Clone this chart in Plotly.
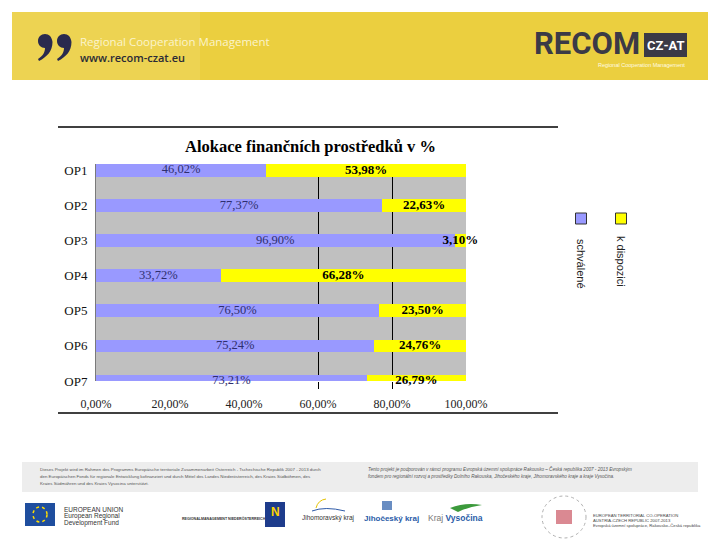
import plotly.graph_objects as go

# ---------------- data ----------------
categories = ["OP1", "OP2", "OP3", "OP4", "OP5", "OP6", "OP7"]
schvalene = [46.02, 77.37, 96.90, 33.72, 76.50, 75.24, 73.21]
k_dispozici = [53.98, 22.63, 3.10, 66.28, 23.50, 24.76, 26.79]
series_names = ["schválené", "k dispozici"]
x_tick_vals = [0, 20, 40, 60, 80, 100]
x_tick_text = ["0,00%", "20,00%", "40,00%", "60,00%", "80,00%", "100,00%"]
grid_vals = [60, 80]
title_text = "Alokace finančních prostředků v %"

BLUE = "#9999FF"
YELLOW = "#FFFF00"
GRAY = "#C0C0C0"
SERIF = "Liberation Serif, Times New Roman, serif"
SANS = "Liberation Sans, Arial, sans-serif"
W, H = 720, 540
OFF = 8  # page body margin offset


def fmt(v):
    return f"{v:.2f}".replace(".", ",") + "%"


def px(x):
    return (x - OFF) / W


def py(y):
    return 1 - (y - OFF) / H


fig = go.Figure()

fig.add_trace(go.Bar(y=categories, x=schvalene, orientation="h", name=series_names[0],
                     marker=dict(color=BLUE, line=dict(width=0)), hoverinfo="skip"))
fig.add_trace(go.Bar(y=categories, x=k_dispozici, orientation="h", name=series_names[1],
                     marker=dict(color=YELLOW, line=dict(width=0)), hoverinfo="skip"))

# data labels centred in each segment
mid_a = [a / 2 for a in schvalene]
mid_b = [a + b / 2 for a, b in zip(schvalene, k_dispozici)]
fig.add_trace(go.Scatter(x=mid_a, y=categories, mode="text", text=[fmt(v) for v in schvalene],
                         textfont=dict(family=SERIF, size=12.5, color="#2e2e6e"),
                         xaxis="x2", cliponaxis=False, showlegend=False, hoverinfo="skip"))
fig.add_trace(go.Scatter(x=mid_b, y=categories, mode="text", text=[fmt(v) for v in k_dispozici],
                         textfont=dict(family=SERIF, size=13, color="#000000", weight=700),
                         xaxis="x2", cliponaxis=False, showlegend=False, hoverinfo="skip"))

xdom = [px(96), px(466)]
ydom = [py(381), py(164)]

fig.update_layout(
    width=W, height=H,
    margin=dict(l=0, r=0, t=0, b=0, autoexpand=False),
    paper_bgcolor="white",
    plot_bgcolor=GRAY,
    barmode="stack",
    bargap=0.64,
    showlegend=False,
    xaxis=dict(domain=xdom, range=[0, 100], tickvals=x_tick_vals, ticktext=x_tick_text,
               showgrid=False, zeroline=False, showline=False, ticks="", automargin=False,
               tickfont=dict(family=SERIF, size=12, color="#222"), ticklabelstandoff=14),
    xaxis2=dict(domain=xdom, range=[0, 100], overlaying="x", anchor="y", side="bottom",
                tickvals=grid_vals, showticklabels=False, showgrid=True, gridcolor="#000000",
                gridwidth=1, zeroline=False, showline=False, ticks="outside", ticklen=7,
                tickcolor="#000000", tickwidth=1, automargin=False),
    yaxis=dict(domain=ydom, type="category", categoryorder="array", categoryarray=categories,
               range=[6, -0.18], showgrid=False, zeroline=False, showline=True,
               linecolor="#7a7a7a", linewidth=1, ticks="", automargin=False,
               tickfont=dict(family=SERIF, size=13, color="#111"), ticklabelstandoff=5),
)

shapes = []
annotations = []

# ---------- header banner ----------
shapes.append(dict(type="rect", xref="paper", yref="paper", x0=px(12), x1=px(708), y0=py(80), y1=py(12),
                   fillcolor="#EBCF3F", line=dict(width=0), layer="below"))
shapes.append(dict(type="rect", xref="paper", yref="paper", x0=px(12), x1=px(200), y0=py(80), y1=py(12),
                   fillcolor="rgba(255,255,255,0.10)", line=dict(width=0), layer="below"))


def comma_path(cx):
    pts = [("M", [(cx - 7, 41)]),
           ("C", [(cx - 7, 37), (cx - 4, 34), (cx, 34)]),
           ("C", [(cx + 4, 34), (cx + 7, 37), (cx + 7.5, 42)]),
           ("C", [(cx + 7.5, 51), (cx + 2, 57), (cx - 6, 61)]),
           ("L", [(cx - 7, 59)]),
           ("C", [(cx - 2, 56), (cx, 52), (cx, 48)]),
           ("C", [(cx - 4, 48), (cx - 7, 45), (cx - 7, 41)])]
    s = ""
    for cmd, ps in pts:
        s += cmd + " " + " ".join(f"{px(a):.5f},{py(b):.5f}" for a, b in ps) + " "
    return s + "Z"


for cx in (45, 64):
    shapes.append(dict(type="path", xref="paper", yref="paper", path=comma_path(cx),
                       fillcolor="#2a2a4e", line=dict(width=0)))

annotations.append(dict(x=px(78), y=py(41), xref="paper", yref="paper", xanchor="left", yanchor="middle",
                        text="Regional Cooperation Management", showarrow=False,
                        font=dict(family="Open Sans, sans-serif", size=11.5, color="#FBF4CC")))
annotations.append(dict(x=px(78), y=py(58), xref="paper", yref="paper", xanchor="left", yanchor="middle",
                        text="www.recom-czat.eu", showarrow=False,
                        font=dict(family="Open Sans, sans-serif", size=11, color="#2a2a36", weight=600)))
annotations.append(dict(x=px(642), y=py(44), xref="paper", yref="paper", xanchor="right", yanchor="middle",
                        text="RECOM", showarrow=False,
                        font=dict(family="Liberation Sans Narrow, Roboto, sans-serif", size=31,
                                  color="#3b3a46", weight=700)))
shapes.append(dict(type="rect", xref="paper", yref="paper", x0=px(644), x1=px(687), y0=py(57), y1=py(33),
                   fillcolor="#3b3a46", line=dict(width=0)))
annotations.append(dict(x=px(665.5), y=py(45), xref="paper", yref="paper", xanchor="center", yanchor="middle",
                        text="CZ-AT", showarrow=False,
                        font=dict(family="Liberation Sans Narrow, Roboto, sans-serif", size=13,
                                  color="white", weight=700)))
annotations.append(dict(x=px(687), y=py(65), xref="paper", yref="paper", xanchor="right", yanchor="middle",
                        text="Regional Cooperation Management", showarrow=False,
                        font=dict(family=SANS, size=5.5, color="#FFFBE0")))

# ---------- chart frame ----------
for yy in (127, 413):
    shapes.append(dict(type="line", xref="paper", yref="paper", x0=px(58), x1=px(558), y0=py(yy), y1=py(yy),
                       line=dict(color="#000000", width=1.5)))

annotations.append(dict(x=px(310), y=py(146), xref="paper", yref="paper", xanchor="center", yanchor="middle",
                        text=title_text, showarrow=False,
                        font=dict(family=SERIF, size=16.5, color="#000", weight=700)))

# ---------- vertical legend ----------
for cx, color, name, cy in ((581, BLUE, series_names[0], 264), (621, YELLOW, series_names[1], 261)):
    shapes.append(dict(type="rect", xref="paper", yref="paper", x0=px(cx - 5.5), x1=px(cx + 5.5),
                       y0=py(224), y1=py(213), fillcolor=color, line=dict(color="#333", width=1)))
    annotations.append(dict(x=px(cx), y=py(cy), xref="paper", yref="paper", xanchor="center",
                            yanchor="middle", text=name, textangle=90, showarrow=False,
                            font=dict(family=SANS, size=11, color="#222")))

# ---------- footer ----------
shapes.append(dict(type="rect", xref="paper", yref="paper", x0=px(22), x1=px(698), y0=py(492), y1=py(462),
                   fillcolor="#EDEDED", line=dict(width=0), layer="below"))
de_lines = [
    "Dieses Projekt wird im Rahmen des Programms Europäische territoriale Zusammenarbeit Österreich - Tschechische Republik 2007 - 2013 durch",
    "den Europäischen Fonds für regionale Entwicklung kofinanziert und durch Mittel des Landes Niederösterreich, des Kraies Südböhmen, des",
    "Kraies Südmähren und des Kraies Vysocina unterstützt.",
]
cz_lines = [
    "<i>Tento projekt je podporován v rámci programu Evropská územní spolupráce Rakousko – Česká republika 2007 - 2013 Evropským</i>",
    "<i>fondem pro regionální rozvoj a prostředky Dolního Rakouska, Jihočeského kraje, Jihomoravského kraje a kraje Vysočina.</i>",
]
for i, t in enumerate(de_lines):
    annotations.append(dict(x=px(38), y=py(469 + 7 * i), xref="paper", yref="paper", xanchor="left",
                            yanchor="middle", text=t, showarrow=False,
                            font=dict(family=SANS, size=4.4, color="#555")))
for i, t in enumerate(cz_lines):
    annotations.append(dict(x=px(366), y=py(469 + 7 * i), xref="paper", yref="paper", xanchor="left",
                            yanchor="middle", text=t, showarrow=False,
                            font=dict(family=SANS, size=4.6, color="#555")))

# EU flag
shapes.append(dict(type="rect", xref="paper", yref="paper", x0=px(25), x1=px(55), y0=py(526), y1=py(503),
                   fillcolor="#1F4E9E", line=dict(width=0)))
shapes.append(dict(type="circle", xref="paper", yref="paper", x0=px(33), x1=px(47), y0=py(522), y1=py(507),
                   line=dict(color="#FFDD00", width=1.5, dash="dot")))
for i, t in enumerate(["EUROPEAN UNION", "European Regional", "Development Fund"]):
    annotations.append(dict(x=px(62), y=py(509 + 7 * i), xref="paper", yref="paper", xanchor="left",
                            yanchor="middle", text=t, showarrow=False,
                            font=dict(family=SANS, size=6.5, color="#333")))

annotations.append(dict(x=px(180), y=py(518), xref="paper", yref="paper", xanchor="left", yanchor="middle",
                        text="REGIONALMANAGEMENT NIEDERÖSTERREICH", showarrow=False,
                        font=dict(family=SANS, size=3.6, color="#333", weight=700)))
shapes.append(dict(type="rect", xref="paper", yref="paper", x0=px(265), x1=px(285), y0=py(527), y1=py(502),
                   fillcolor="#1E3C8C", line=dict(width=0)))
annotations.append(dict(x=px(275), y=py(512), xref="paper", yref="paper", xanchor="center", yanchor="middle",
                        text="N", showarrow=False, font=dict(family=SANS, size=12, color="#FFD400", weight=700)))
annotations.append(dict(x=px(300), y=py(518), xref="paper", yref="paper", xanchor="left", yanchor="middle",
                        text="Jihomoravský kraj", showarrow=False,
                        font=dict(family=SANS, size=6.5, color="#333")))
shapes.append(dict(type="path", xref="paper", yref="paper",
                   path=f"M {px(312)},{py(511)} Q {px(325)},{py(506)} {px(345)},{py(511)}",
                   line=dict(color="#2F5BA8", width=1)))
shapes.append(dict(type="path", xref="paper", yref="paper",
                   path=f"M {px(316)},{py(508)} Q {px(318)},{py(500)} {px(326)},{py(499)}",
                   line=dict(color="#E5C200", width=1)))
annotations.append(dict(x=px(362), y=py(518), xref="paper", yref="paper", xanchor="left", yanchor="middle",
                        text="Jihočeský kraj", showarrow=False,
                        font=dict(family=SANS, size=8, color="#2A5CA8", weight=700)))
shapes.append(dict(type="rect", xref="paper", yref="paper", x0=px(382), x1=px(392), y0=py(510), y1=py(501),
                   fillcolor="#2A5CA8", line=dict(width=0), opacity=0.7))
annotations.append(dict(x=px(426), y=py(518), xref="paper", yref="paper", xanchor="left", yanchor="middle",
                        text="Kraj <b><span style='color:#2A5CA8'>Vysočina</span></b>", showarrow=False,
                        font=dict(family=SANS, size=8.5, color="#777")))
shapes.append(dict(type="path", xref="paper", yref="paper",
                   path=f"M {px(450)},{py(508)} Q {px(465)},{py(502)} {px(482)},{py(505)} Q {px(468)},{py(507)} {px(458)},{py(512)} Z",
                   fillcolor="#3C9A3C", line=dict(width=0)))

# territorial co-operation logo
shapes.append(dict(type="circle", xref="paper", yref="paper", x0=px(542), x1=px(586), y0=py(538), y1=py(496),
                   line=dict(color="#B0B0B0", width=1, dash="dot")))
shapes.append(dict(type="rect", xref="paper", yref="paper", x0=px(556), x1=px(572), y0=py(524), y1=py(510),
                   fillcolor="#C23A4A", line=dict(width=0), opacity=0.6))
for i, t in enumerate(["EUROPEAN TERRITORIAL CO-OPERATION", "AUSTRIA-CZECH REPUBLIC 2007-2013",
                       "Evropská územní spolupráce, Rakousko–Česká republika"]):
    annotations.append(dict(x=px(591), y=py(515 + 5 * i), xref="paper", yref="paper", xanchor="left",
                            yanchor="middle", text=t, showarrow=False,
                            font=dict(family=SANS, size=4.2, color="#444")))

fig.update_layout(shapes=shapes, annotations=annotations)

fig.write_html("out.html")
